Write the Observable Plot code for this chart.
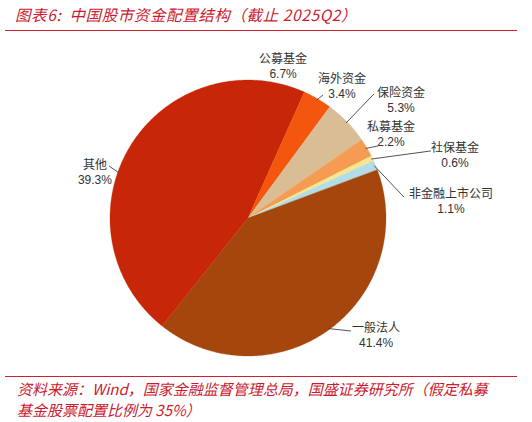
<!DOCTYPE html>
<html>
<head>
<meta charset="utf-8">
<script src="https://cdn.jsdelivr.net/npm/d3@7"></script>
<script src="https://cdn.jsdelivr.net/npm/@observablehq/plot@0.6"></script>
<style>
  html, body { margin: 0; padding: 0; background: #fff; }
  body { width: 532px; height: 422px; overflow: hidden; font-family: "Noto Sans CJK SC", "Liberation Sans", sans-serif; }
  #title { height: 30px; line-height: 28px; padding-left: 15px; font-size: 15.5px; letter-spacing: 0.6px; font-style: italic; color: #cc1a30; white-space: nowrap; }
  .rule { margin: 0 15px 0 5px; border-top: 1.3px solid #d0202f; height: 0; }
  #chart { height: 345px; }
  #note { padding-left: 17px; padding-top: 1px; font-size: 15px; line-height: 21px; font-style: italic; color: #cc1a30; }
  svg text { font-family: "Liberation Sans", "Noto Sans CJK SC", sans-serif; }
</style>
</head>
<body>
<div id="title">图表6:&nbsp; 中国股市资金配置结构（截止 2025Q2）</div>
<div class="rule"></div>
<div id="chart"></div>
<div class="rule"></div>
<div id="note">资料来源：Wind，国家金融监督管理总局，国盛证券研究所（假定私募<br>基金股票配置比例为 35%）</div>
<script>
// ---- data ----
const names  = ["公募基金", "海外资金", "保险资金", "私募基金", "社保基金", "非金融上市公司", "一般法人", "其他"];
const shares = [6.7, 3.4, 5.3, 2.2, 0.6, 1.1, 41.4, 39.3];
const colors = ["#c82608", "#f5560e", "#d8bd95", "#f59b52", "#f6e68e", "#b2dce6", "#a5470d", "#c82608"];

// ---- layout (label anchors, leader ends; in pie-radius units) ----
const labelAt   = [[0.254, 1.101], [0.681, 0.960], [1.109, 0.855], [1.036, 0.609], [1.50, 0.457], [1.471, 0.123], [0.928, -0.848], [-1.109, 0.337]];
const leaderEnd = [null, [0.543, 0.891], [0.913, 0.899], [0.942, 0.522], [1.326, 0.486], [1.130, 0.152], [0.746, -0.819], [-1.007, 0.377]];

const total = d3.sum(shares);
let acc = 0;
const slices = names.map((name, i) => {
  const a0 = acc / total * 2 * Math.PI;
  acc += shares[i];
  const a1 = acc / total * 2 * Math.PI;
  return {name, share: shares[i], a0, a1, mid: (a0 + a1) / 2, i};
});

const pts = [];
for (const s of slices) {
  pts.push({name: s.name, x: 0, y: 0});
  const n = Math.max(2, Math.ceil((s.a1 - s.a0) / (Math.PI / 360)));
  for (let k = 0; k <= n; k++) {
    const a = s.a0 + (s.a1 - s.a0) * k / n;
    pts.push({name: s.name, x: Math.sin(a), y: Math.cos(a)});
  }
  pts.push({name: s.name, x: 0, y: 0});
}

const labels = slices.map(s => ({
  x: labelAt[s.i][0], y: labelAt[s.i][1],
  text: s.name + "\n" + s.share.toFixed(1) + "%"
}));

const leaders = slices.filter(s => leaderEnd[s.i]).map(s => ({
  x1: Math.sin(s.mid) * 0.99, y1: Math.cos(s.mid) * 0.99,
  x2: leaderEnd[s.i][0], y2: leaderEnd[s.i][1]
}));

const cx = 247.5, cy = 186.5, R = 138;
const chart = Plot.plot({
  width: 532,
  height: 345,
  margin: 0,
  x: {domain: [-1, 1], range: [cx - R, cx + R], axis: null},
  y: {domain: [-1, 1], range: [cy + R, cy - R], axis: null},
  color: {domain: names, range: colors},
  marks: [
    Plot.line(pts, {x: "x", y: "y", z: "name", fill: "name", stroke: "name", strokeWidth: 0.3, curve: "linear"}),
    Plot.link(leaders, {x1: "x1", y1: "y1", x2: "x2", y2: "y2", stroke: "#404040", strokeWidth: 0.9}),
    Plot.text(labels, {x: "x", y: "y", text: "text", fontSize: 12, lineHeight: 1.25, fill: "#333333"})
  ]
});
document.getElementById("chart").appendChild(chart);
</script>
</body>
</html>
